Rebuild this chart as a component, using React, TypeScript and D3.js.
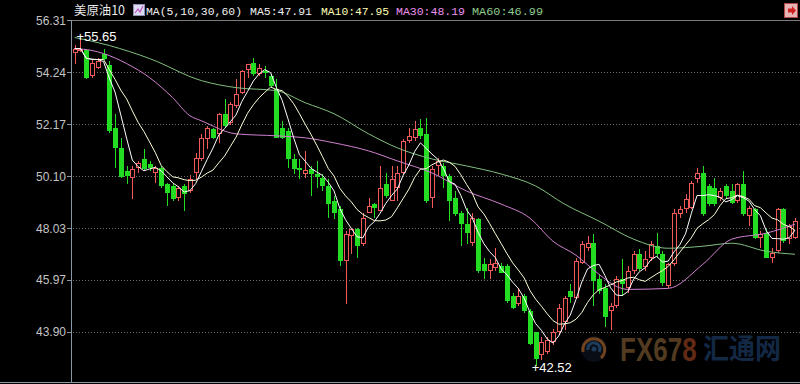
import React from "react";
import * as d3 from "d3";

const W = 800;
const H = 384;

// OHLC (index 0..125)
const opens = [
  55.03, 55.13, 55.15, 54.11, 54.43, 54.99, 54.55, 52.03, 51.23, 50.31,
  50.03, 50.43, 50.79, 50.59, 50.23, 50.43, 49.79, 49.71, 49.23, 49.71,
  49.51, 50.23, 50.79, 51.59, 51.99, 51.79, 52.59, 52.23, 52.91, 53.43,
  54.35, 54.63, 54.19, 54.31, 54.11, 53.59, 52.03, 51.91, 50.79, 50.43,
  50.19, 50.39, 50.19, 50.03, 49.71, 49.11, 48.79, 46.71, 47.71, 47.99,
  47.39, 48.63, 48.99, 48.71, 49.79, 49.11, 49.63, 50.23, 51.51, 51.63,
  52.03, 51.79, 49.23, 50.51, 50.51, 50.11, 49.23, 48.63, 48.19, 47.43,
  48.39, 46.59, 46.31, 46.43, 46.51, 46.51, 45.31, 44.99, 45.31, 44.71,
  43.91, 42.99, 43.11, 43.51, 43.91, 44.31, 45.51, 45.23, 46.63, 47.23,
  47.43, 45.99, 45.63, 44.71, 44.91, 45.99, 45.63, 46.31, 46.99, 46.47,
  46.83, 47.31, 46.99, 45.71, 46.59, 48.59, 48.79, 48.83, 49.99, 50.23,
  49.71, 49.63, 49.23, 49.71, 49.51, 49.11, 49.79, 48.51, 48.79, 47.63,
  47.83, 46.83, 47.11, 48.79, 47.59, 47.63,
];
const highs = [
  55.31, 55.65, 55.19, 54.79, 54.83, 55.19, 54.71, 52.59, 51.63, 50.51,
  50.51, 50.71, 51.19, 50.71, 50.51, 50.51, 49.83, 49.79, 49.71, 49.79,
  50.15, 51.03, 51.79, 52.11, 52.03, 52.63, 53.19, 53.07, 53.99, 54.35,
  54.59, 54.83, 54.59, 54.51, 54.19, 53.99, 52.31, 52.03, 50.99, 50.79,
  51.11, 50.51, 50.71, 50.19, 49.99, 49.31, 48.91, 47.91, 48.03, 48.03,
  48.63, 49.23, 49.03, 50.51, 50.23, 50.51, 50.51, 51.59, 52.03, 52.31,
  52.39, 52.43, 50.51, 50.83, 50.63, 50.19, 49.51, 48.71, 48.83, 48.63,
  48.43, 46.83, 46.79, 47.23, 46.63, 46.59, 45.43, 45.63, 45.39, 44.79,
  43.91, 43.71, 43.71, 44.03, 44.99, 45.31, 45.79, 46.83, 47.51, 47.71,
  47.79, 46.19, 45.79, 45.03, 46.11, 46.79, 46.51, 47.11, 47.19, 47.11,
  47.51, 47.83, 47.11, 46.63, 48.79, 48.91, 49.39, 49.91, 50.43, 50.51,
  49.79, 50.03, 49.63, 49.79, 49.79, 49.83, 50.31, 48.91, 48.83, 47.91,
  47.99, 47.23, 48.83, 48.83, 48.19, 48.43,
];
const lows = [
  54.59, 55.07, 53.99, 54.03, 54.39, 54.75, 51.83, 50.43, 50.03, 49.79,
  49.19, 50.23, 50.31, 50.31, 49.83, 49.63, 48.91, 49.11, 49.11, 48.71,
  49.43, 49.99, 50.71, 51.19, 51.59, 51.43, 52.03, 52.15, 52.83, 53.39,
  54.03, 54.11, 54.11, 54.03, 53.63, 51.63, 51.59, 50.43, 50.19, 49.99,
  50.03, 49.31, 49.63, 49.51, 48.43, 48.39, 46.51, 44.99, 46.99, 46.83,
  47.31, 48.63, 48.43, 48.71, 49.23, 49.11, 49.11, 50.19, 51.43, 51.51,
  51.59, 49.03, 48.83, 50.11, 49.63, 48.31, 48.51, 47.31, 47.39, 47.31,
  46.23, 45.99, 45.99, 46.31, 46.23, 45.03, 44.79, 44.91, 44.63, 43.39,
  42.52, 42.79, 43.03, 43.39, 43.83, 43.99, 45.03, 45.19, 46.59, 47.11,
  44.91, 45.39, 44.11, 43.99, 44.83, 45.31, 45.43, 46.19, 46.31, 46.31,
  46.71, 46.83, 45.71, 45.63, 46.51, 48.43, 48.63, 48.79, 49.83, 48.51,
  48.91, 48.91, 49.11, 49.19, 48.99, 49.03, 48.51, 48.11, 47.59, 47.23,
  46.83, 46.63, 47.03, 47.43, 47.39, 47.59,
];
const closes = [
  55.19, 55.19, 54.03, 54.63, 54.71, 54.79, 51.91, 51.23, 50.07, 50.11,
  50.39, 50.63, 50.39, 50.43, 50.43, 49.71, 49.43, 49.19, 49.63, 49.39,
  49.99, 50.83, 51.63, 52.03, 51.63, 52.59, 52.11, 52.99, 53.39, 54.31,
  54.59, 54.19, 54.43, 54.23, 53.71, 51.63, 51.63, 50.79, 50.39, 50.35,
  50.35, 50.19, 50.07, 49.71, 48.99, 48.63, 46.71, 47.79, 47.99, 47.31,
  48.43, 48.91, 48.83, 49.63, 49.31, 49.99, 50.23, 51.51, 51.71, 51.99,
  51.71, 49.11, 50.39, 50.71, 50.11, 49.11, 48.59, 48.19, 47.83, 48.43,
  46.31, 46.31, 46.59, 46.63, 46.23, 45.11, 44.83, 45.31, 44.71, 43.43,
  42.83, 43.51, 43.59, 43.91, 44.83, 45.23, 45.27, 46.71, 47.39, 47.43,
  45.91, 45.51, 44.51, 44.91, 45.99, 45.79, 46.31, 46.99, 46.39, 46.79,
  47.39, 46.99, 45.83, 46.59, 48.63, 48.79, 49.19, 49.83, 50.23, 48.59,
  48.99, 48.99, 49.51, 49.31, 49.03, 49.79, 48.59, 48.83, 47.63, 47.79,
  46.83, 47.03, 48.79, 47.51, 48.11, 48.31,
];

// MA30 / MA60 lines at these candle indices
const ma30Idx = [0, 3, 5, 9, 13, 17, 20, 22, 28, 35, 40, 45, 51, 56, 62, 68, 74, 79, 83, 87, 91, 94, 96, 103, 109, 114, 120, 125];
const ma30Val = [55.19, 55.11, 54.99, 54.59, 54.03, 53.23, 52.51, 52.31, 51.79, 51.71, 51.63, 51.43, 51.11, 50.71, 50.23, 49.51, 48.99, 48.43, 47.51, 46.95, 46.19, 45.71, 45.59, 45.63, 46.59, 47.59, 47.83, 48.19];
const ma60Idx = [0, 6, 13, 22, 28, 35, 40, 45, 51, 56, 62, 68, 74, 80, 85, 91, 97, 103, 109, 114, 120, 125];
const ma60Val = [55.63, 55.31, 54.79, 53.91, 53.63, 53.51, 53.03, 52.59, 51.79, 51.23, 50.79, 50.51, 50.19, 49.71, 48.99, 48.31, 47.59, 47.23, 47.31, 47.43, 47.11, 46.99];

const yTicks = [56.31, 54.24, 52.17, 50.1, 48.03, 45.97, 43.9];
const yTickLabels = ["56.31", "54.24", "52.17", "50.10", "48.03", "45.97", "43.90"];

const legendTexts = ["美原油10", "MA(5,10,30,60)", "MA5:47.91", "MA10:47.95", "MA30:48.19", "MA60:46.99"];

const highMark = { idx: 1, value: 55.65, label: "55.65" };
const lowMark = { idx: 80, value: 42.52, label: "42.52" };

const UP = "#f25a5a";
const DOWN = "#22dd22";

function movingAvg(arr: number[], n: number): number[] {
  return arr.map((_, i) => d3.mean(arr.slice(Math.max(0, i - n + 1), i + 1)) as number);
}

export default function App() {
  const x = d3.scaleLinear().domain([0, closes.length - 1]).range([74.7, 795]);
  const y = d3.scaleLinear().domain([41.9, 56.31]).range([382, 20.4]);

  const ma5 = movingAvg(closes, 5);
  const ma10 = movingAvg(closes, 10);

  const lineIdx = d3
    .line<number>()
    .x((_, i) => x(i))
    .y((v) => y(v));
  const lineSample = (idx: number[]) =>
    d3
      .line<number>()
      .x((_, i) => x(idx[i]))
      .y((v) => y(v))
      .curve(d3.curveMonotoneX);

  const candles = closes.map((c, i) => {
    const o = opens[i];
    const hi = highs[i];
    const lo = lows[i];
    const cx = Math.round(x(i));
    const up = c >= o;
    const top = Math.round(y(Math.max(o, c)));
    const bot = Math.max(top + 1, Math.round(y(Math.min(o, c))));
    const yh = Math.round(y(hi));
    const yl = Math.round(y(lo));
    if (up) {
      return (
        <g key={i} stroke={UP} fill="none" strokeWidth={1}>
          {yh < top && <line x1={cx + 0.5} x2={cx + 0.5} y1={yh} y2={top} />}
          {yl > bot && <line x1={cx + 0.5} x2={cx + 0.5} y1={bot} y2={yl} />}
          <rect x={cx - 1.5} y={top + 0.5} width={4} height={Math.max(1, bot - top - 1)} fill="#000" />
        </g>
      );
    }
    return (
      <g key={i}>
        <line x1={cx + 0.5} x2={cx + 0.5} y1={yh} y2={yl} stroke={DOWN} strokeWidth={1} />
        <rect x={cx - 2} y={top} width={5} height={Math.max(1, bot - top)} fill={DOWN} />
      </g>
    );
  });

  const mono = "'Liberation Mono', 'DejaVu Sans Mono', monospace";
  const sans = "'Liberation Sans', Arial, sans-serif";

  return (
    <div style={{ position: "fixed", left: 0, top: 0, width: W, height: H, background: "#000" }}>
      <svg width={W} height={H} viewBox={`0 0 ${W} ${H}`} style={{ display: "block" }}>
        <rect x={0} y={0} width={W} height={H} fill="#000" />

        {/* grid lines */}
        {yTicks.slice(1).map((t, i) => (
          <line
            key={i}
            x1={73}
            x2={W}
            y1={Math.round(y(t)) + 0.5}
            y2={Math.round(y(t)) + 0.5}
            stroke="#6e6e6e"
            strokeWidth={1}
            strokeDasharray="1 2"
          />
        ))}
        {/* top border */}
        <line x1={72} x2={W} y1={20.5} y2={20.5} stroke="#7c7c7c" strokeWidth={1} />
        {/* bottom border */}
        <line x1={0} x2={W} y1={382.5} y2={382.5} stroke="#8a98a6" strokeWidth={1} />
        {/* y axis */}
        <line x1={71.5} x2={71.5} y1={20} y2={383} stroke="#8a98a6" strokeWidth={1} />
        {yTicks.map((t, i) => (
          <g key={i}>
            <line x1={67} x2={72} y1={Math.round(y(t)) + 0.5} y2={Math.round(y(t)) + 0.5} stroke="#8a98a6" />
            <text
              x={66}
              y={y(t)}
              textAnchor="end"
              dominantBaseline="central"
              fontFamily={sans}
              fontSize={13}
              fill="#c4c4c4"
              textLength={30}
              lengthAdjust="spacingAndGlyphs"
            >
              {yTickLabels[i]}
            </text>
          </g>
        ))}

        {candles}

        <path d={lineSample(ma60Idx)(ma60Val) || ""} fill="none" stroke="#80c080" strokeWidth={1} />
        <path d={lineSample(ma30Idx)(ma30Val) || ""} fill="none" stroke="#d080d0" strokeWidth={1} />
        <path d={lineIdx(ma10) || ""} fill="none" stroke="#ffffd8" strokeWidth={1} />
        <path d={lineIdx(ma5) || ""} fill="none" stroke="#ffffff" strokeWidth={1} />

        {/* high / low markers */}
        <text x={x(highMark.idx) - 4} y={y(highMark.value)} dominantBaseline="central" fontFamily={sans} fontSize={13} fill="#ffffff">
          {"+" + highMark.label}
        </text>
        <text x={x(lowMark.idx) - 4} y={y(lowMark.value) + 1} dominantBaseline="central" fontFamily={sans} fontSize={13} fill="#ffffff">
          {"+" + lowMark.label}
        </text>

        {/* legend */}
        <text x={74} y={15} fontFamily="'Noto Sans CJK SC', sans-serif" fontSize={12.5} fill="#e8e8e8" textLength={51} lengthAdjust="spacingAndGlyphs">
          {legendTexts[0]}
        </text>
        <g>
          <rect x={133.5} y={4.5} width={11} height={11} fill="#dcdcf0" stroke="#9090b0" />
          <polyline points="135,13 138,9 140,12 143,6" fill="none" stroke="#c050c0" strokeWidth={1.2} />
        </g>
        <text x={146} y={15} fontFamily={mono} fontSize={11.5} fill="#f0f0f0" textLength={96} lengthAdjust="spacingAndGlyphs">
          {legendTexts[1]}
        </text>
        <text x={250} y={15} fontFamily={mono} fontSize={11.5} fill="#f0f0f0" textLength={62} lengthAdjust="spacingAndGlyphs">
          {legendTexts[2]}
        </text>
        <text x={321} y={15} fontFamily={mono} fontSize={11.5} fill="#ffffb4" textLength={68} lengthAdjust="spacingAndGlyphs">
          {legendTexts[3]}
        </text>
        <text x={396} y={15} fontFamily={mono} fontSize={11.5} fill="#ee90ee" textLength={69} lengthAdjust="spacingAndGlyphs">
          {legendTexts[4]}
        </text>
        <text x={472} y={15} fontFamily={mono} fontSize={11.5} fill="#8ccc8c" textLength={71} lengthAdjust="spacingAndGlyphs">
          {legendTexts[5]}
        </text>

        {/* top-right icon */}
        <g>
          <rect x={784.5} y={3.5} width={13} height={14} fill="#e6b4b4" stroke="#b04848" />
          <polygon points="788,8.5 792,8.5 792,6 796,10.5 792,15 792,12.5 788,12.5" fill="#d02020" />
        </g>

        {/* watermark */}
        <g opacity={0.7}>
          <circle cx={594} cy={349} r={13} fill="#0d1420" />
          <path d="M 583 352 A 11 11 0 1 1 601 358" fill="none" stroke="#a0602c" strokeWidth={3} />
          <path d="M 588 350 A 6 6 0 1 1 599 352" fill="none" stroke="#2a5580" strokeWidth={3} />
          <circle cx={594} cy={349} r={2.5} fill="#2a5580" />
          <g transform="translate(620,361) scale(1,1.25)">
            <text x={0} y={0} fontFamily={sans} fontWeight="bold" fontSize={26} fill="#75552e">
              FX67<tspan fill="#8a3c1e">8</tspan>
            </text>
          </g>
          <g transform="translate(703,359) scale(1,1.1)">
            <text x={0} y={0} fontFamily="'Noto Sans CJK SC', sans-serif" fontWeight="bold" fontSize={26} fill="#1c3a62">
              汇通网
            </text>
          </g>
        </g>
      </svg>
    </div>
  );
}
